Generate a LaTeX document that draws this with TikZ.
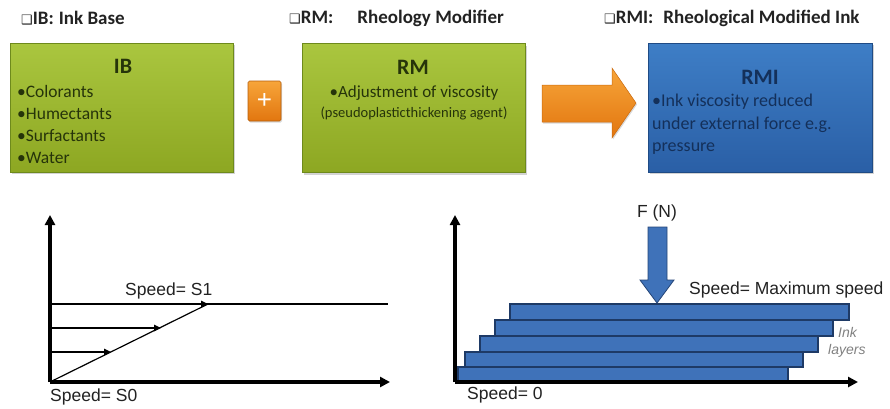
\documentclass[tikz,border=0pt]{standalone}
\usepackage{fontspec}
\setmainfont{Carlito}
\newfontfamily\arialf{Liberation Sans}
\newfontfamily\djv{DejaVu Sans}
\usetikzlibrary{shadows,arrows.meta}
\definecolor{gtop}{HTML}{AAC63F}
\definecolor{gbot}{HTML}{8DA722}
\definecolor{gline}{HTML}{6E8A1C}
\definecolor{gtext}{HTML}{26340A}
\definecolor{btop}{HTML}{3E7EC6}
\definecolor{bbot}{HTML}{2A5FA6}
\definecolor{bline}{HTML}{1F4B85}
\definecolor{btext}{HTML}{14305A}
\definecolor{otop}{HTML}{F7A53A}
\definecolor{obot}{HTML}{E2760F}
\definecolor{layer}{HTML}{3F72B9}
\definecolor{layerline}{HTML}{1E3A66}
\definecolor{hdrcol}{HTML}{222222}
\begin{document}
\begin{tikzpicture}[x=1pt,y=-1pt,
  hdr/.style={anchor=west,inner sep=0pt,text=hdrcol,font=\fontsize{19}{22}\selectfont\bfseries},
  gbox/.style={draw=gline,line width=1pt,top color=gtop,bottom color=gbot,minimum width=223pt,minimum height=129pt,inner sep=0pt,drop shadow={opacity=0.35,shadow xshift=1.5pt,shadow yshift=-2pt}},
  bbox/.style={draw=bline,line width=1pt,top color=btop,bottom color=bbot,minimum width=224pt,minimum height=129pt,inner sep=0pt,drop shadow={opacity=0.35,shadow xshift=1.5pt,shadow yshift=-2pt}},
  ttl/.style={inner sep=0pt,font=\fontsize{22}{24}\selectfont\bfseries},
  blt/.style={inner sep=0pt,align=left,font=\fontsize{17.5}{22}\selectfont},
  lab/.style={inner sep=0pt,text=hdrcol,font=\arialf\fontsize{17.5}{20}\selectfont},
  axis/.style={line width=3.2pt,-{Triangle[length=10pt,width=10pt]}},
  flow/.style={line width=1.3pt,-{Triangle[length=7pt,width=6.5pt]}},
  lay/.style={draw=layerline,line width=1.3pt,fill=layer}
]
\useasboundingbox (0,0) rectangle (890,408);

% headers
\node[hdr] (hIB) at (21,18) {{\djv\fontsize{13}{13}\selectfont ❑}IB:\hspace{5pt}Ink Base};
\node[hdr] (hRM) at (289,18) {{\djv\fontsize{13}{13}\selectfont ❑}RM:\hspace{24pt}Rheology Modifier};
\node[hdr] (hRMI) at (604,18) {{\djv\fontsize{13}{13}\selectfont ❑}RMI:\hspace{10pt}Rheological Modified Ink};

% boxes
\node[gbox] (IB) at (121.5,107.5) {};
\node[gbox] (RM) at (413.5,108) {};
\node[bbox] (RMI) at (760,107.5) {};

\node[ttl,text=gtext] (IBt) at (123,66) {IB};
\node[blt,text=gtext,anchor=north west] (IBb) at (17,85) {•Colorants\\•Humectants\\•Surfactants\\•Water};

\node[ttl,text=gtext] (RMt) at (413,67) {RM};
\node[inner sep=0pt,text=gtext,font=\fontsize{17}{18}\selectfont] (RMb) at (414,93) {•Adjustment of viscosity};
\node[inner sep=0pt,text=gtext,font=\fontsize{14.5}{15}\selectfont] (RMp) at (414,113) {(pseudoplasticthickening agent)};

\node[ttl,text=btext] (RMIt) at (760,77) {RMI};
\node[blt,text=btext,anchor=north west,font=\fontsize{18}{22.5}\selectfont] (RMIb) at (652,94) {•Ink viscosity reduced\\under external force e.g.\\pressure};

% plus
\node[draw=obot!80!black,line width=0.6pt,top color=otop,bottom color=obot,rounded corners=1.5pt,minimum width=33pt,minimum height=40pt,inner sep=0pt,text=white,font=\arialf\fontsize{26}{26}\selectfont,drop shadow={opacity=0.3,shadow xshift=1pt,shadow yshift=-1.5pt}] (plus) at (264.5,101) {+};

% big arrow
\path[top color=otop,bottom color=obot,draw=obot!90!black,line width=0.5pt,drop shadow={opacity=0.3,shadow xshift=1pt,shadow yshift=-1.5pt}]
  (542,85) -- (612,85) -- (612,68) -- (636,103) -- (612,138) -- (612,122) -- (542,122) -- cycle;

% left chart
\coordinate (o1) at (50,382);
\coordinate (y1) at (50,215);
\coordinate (x1) at (390,382);
\coordinate (t1a) at (49,304);
\coordinate (t1b) at (388,304);
\coordinate (d1) at (208,304);
\coordinate (a1) at (50,328);
\coordinate (a1e) at (161,328);
\coordinate (b1) at (50,352);
\coordinate (b1e) at (111,352);
\draw[axis] (o1) -- (y1);
\draw[axis] (o1) -- (x1);
\draw[line width=2.8pt] (t1a) -- (t1b);
\draw[line width=1.2pt] (o1) -- (d1);
\draw[flow] (a1) -- (a1e);
\draw[flow] (b1) -- (b1e);
\draw[flow] (t1a) -- (d1);
\node[lab,anchor=south west] (s1) at (125,299) {Speed= S1};
\node[lab,anchor=west] (s0) at (50,397) {Speed= S0};

% right chart
\coordinate (o2) at (455,382);
\coordinate (y2) at (455,215);
\coordinate (x2) at (858,382);
\draw[lay] (458,367) rectangle (788,382);
\draw[lay] (465,352) rectangle (803,367);
\draw[lay] (480,336) rectangle (818,352);
\draw[lay] (495,320) rectangle (833,336);
\draw[lay] (510,304) rectangle (849,320);
\draw[axis] (o2) -- (y2);
\draw[axis] (o2) -- (x2);

\path[fill=layer,draw=layerline!80!layer,line width=0.8pt]
  (648,227) -- (667,227) -- (667,280) -- (674,280) -- (657,303) -- (640,280) -- (648,280) -- cycle;
\node[lab] (F) at (657,213) {F (N)};
\node[lab,anchor=west] (smax) at (689,290) {Speed= Maximum speed};
\node[inner sep=0pt,text=gray,align=left,font=\arialf\itshape\fontsize{14}{17}\selectfont,anchor=north west] (ink) at (828,327) {\hspace*{10pt}Ink\\layers};
\node[lab,anchor=west] (sz) at (467,395) {Speed= 0};
\end{tikzpicture}
\end{document}
